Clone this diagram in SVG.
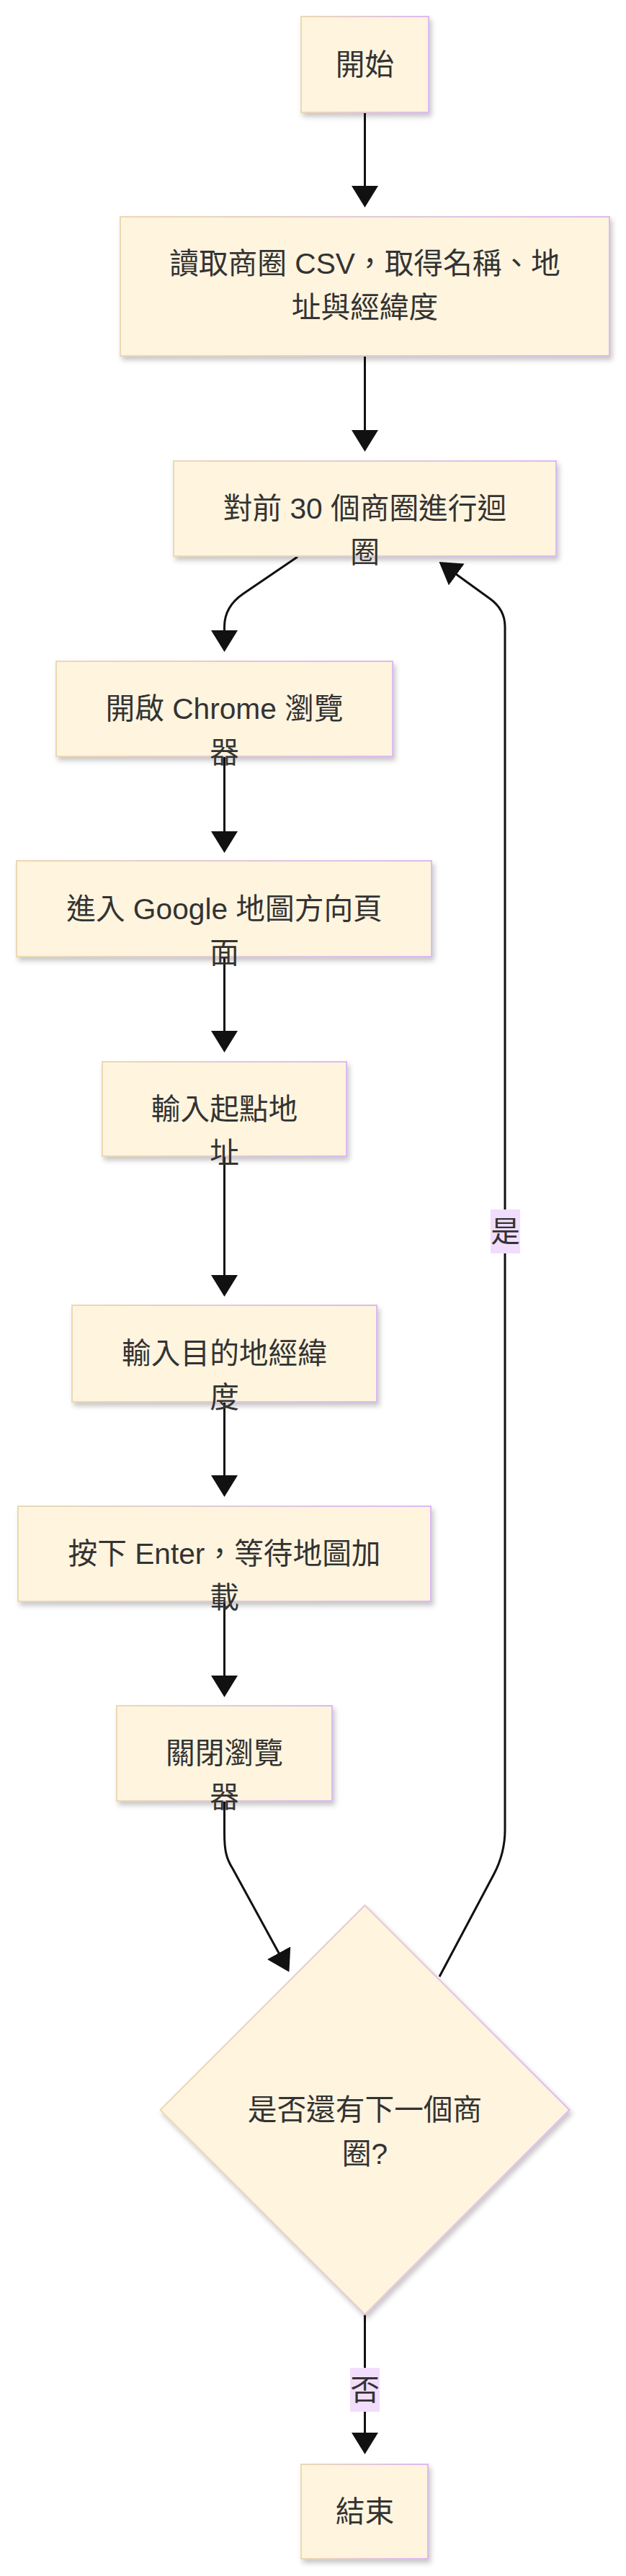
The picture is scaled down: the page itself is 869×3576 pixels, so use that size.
<svg xmlns="http://www.w3.org/2000/svg" width="869" height="3576" viewBox="0 0 869 3576">
<style>
.node{fill:#fff4de;stroke:url(#sg);stroke-width:2;filter:url(#sh)}
.t{font-family:"Liberation Sans",Arial,"Noto Sans CJK TC",sans-serif;font-size:40.7px;fill:#333;text-anchor:middle}
.e{fill:none;stroke:#111;stroke-width:3;marker-end:url(#ah)}
.lb{fill:#f2ddfd}
</style>
<defs>
<linearGradient id="sg" x1="0" y1="0" x2="1" y2="0">
<stop offset="0" stop-color="#ecd9b3"/>
<stop offset="1" stop-color="#dcbaf2"/>
</linearGradient>
<filter id="sh" x="-10%" y="-10%" width="125%" height="130%">
<feDropShadow dx="3" dy="5" stdDeviation="3.5" flood-color="#000" flood-opacity="0.22"/>
</filter>
<marker id="ah" viewBox="0 0 30 37" refX="1" refY="18.5" markerWidth="30" markerHeight="37" markerUnits="userSpaceOnUse" orient="auto">
<path d="M0,0 L30,18.5 L0,37 z" fill="#111"/>
</marker>
</defs>
<g id="edges">
<path class="e" d="M506.5,156 L506.5,259"/>
<path class="e" d="M506.5,494 L506.5,598"/>
<path class="e" d="M413,773 L338,824 Q311.5,842 311.5,870 L311.5,876"/>
<path class="e" d="M311.5,1050 L311.5,1155"/>
<path class="e" d="M311.5,1328 L311.5,1432"/>
<path class="e" d="M311.5,1605 L311.5,1771"/>
<path class="e" d="M311.5,1946 L311.5,2049"/>
<path class="e" d="M311.5,2223 L311.5,2327"/>
<path class="e" d="M311.5,2500 L311.5,2545 C311.5,2568 314,2580 323,2594 L387.5,2712"/>
<path class="e" d="M610,2744 L686,2601 Q701,2572 701,2540 L701,870 Q701,846 680,831 L633,797"/>
<path class="e" d="M506.5,3213 L506.5,3378"/>
</g>
<g id="edge-labels">
<g id="label-yes"><rect class="lb" x="681" y="1679" width="41" height="61"/><text class="t" x="701.5" y="1723.5">是</text></g>
<g id="label-no"><rect class="lb" x="486" y="3287" width="41" height="61"/><text class="t" x="506.5" y="3331.5">否</text></g>
</g>
<g id="start"><rect class="node" x="418" y="23" width="177" height="133"/><text class="t" x="506.5" y="103.5">開始</text></g>
<g id="read"><rect class="node" x="167" y="301" width="679" height="193"/><text class="t" x="506.5" y="380">讀取商圈 CSV，取得名稱、地</text><text class="t" x="506.5" y="441">址與經緯度</text></g>
<g id="loop"><rect class="node" x="241" y="640" width="531" height="132"/><text class="t" x="506.5" y="720">對前 30 個商圈進行迴</text><text class="t" x="506.5" y="781">圈</text></g>
<g id="chrome"><rect class="node" x="78" y="918" width="467" height="132"/><text class="t" x="311.5" y="998">開啟 Chrome 瀏覽</text><text class="t" x="311.5" y="1059">器</text></g>
<g id="google"><rect class="node" x="23" y="1195" width="576" height="133"/><text class="t" x="311.5" y="1275.5">進入 Google 地圖方向頁</text><text class="t" x="311.5" y="1336.5">面</text></g>
<g id="origin"><rect class="node" x="142" y="1474" width="339" height="131"/><text class="t" x="311.5" y="1553.5">輸入起點地</text><text class="t" x="311.5" y="1614.5">址</text></g>
<g id="dest"><rect class="node" x="100" y="1812" width="423" height="134"/><text class="t" x="311.5" y="1893">輸入目的地經緯</text><text class="t" x="311.5" y="1954">度</text></g>
<g id="enter"><rect class="node" x="25" y="2091" width="573" height="132"/><text class="t" x="311.5" y="2171">按下 Enter，等待地圖加</text><text class="t" x="311.5" y="2232">載</text></g>
<g id="close"><rect class="node" x="162" y="2368" width="299" height="132"/><text class="t" x="311.5" y="2448">關閉瀏覽</text><text class="t" x="311.5" y="2509">器</text></g>
<g id="decision"><polygon class="node" points="506.5,2645 790.5,2929 506.5,3213 222.5,2929"/><text class="t" x="506.5" y="2943">是否還有下一個商</text><text class="t" x="506.5" y="3004">圈?</text></g>
<g id="end"><rect class="node" x="418" y="3421" width="176" height="131"/><text class="t" x="506.5" y="3500.5">結束</text></g>
</svg>
